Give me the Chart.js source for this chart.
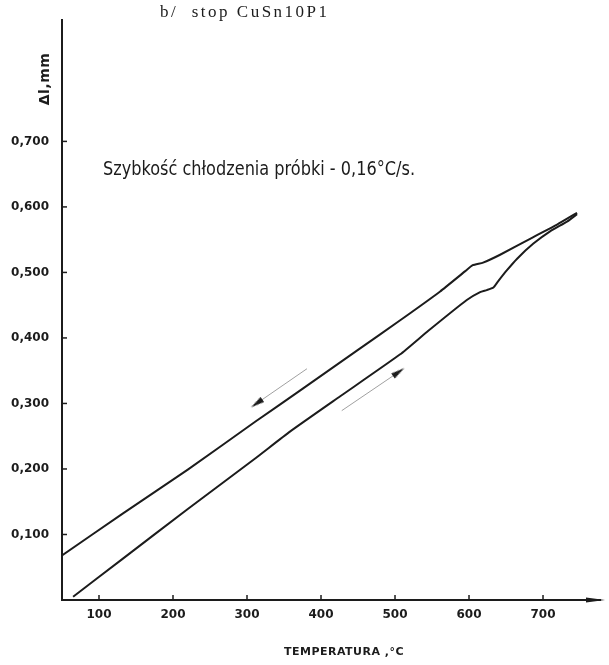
<!DOCTYPE html>
<html>
<head>
<meta charset="utf-8">
<script src="https://cdn.jsdelivr.net/npm/chart.js@4.4.1/dist/chart.umd.min.js"></script>
<style>
  html, body { margin: 0; padding: 0; background: #fff; }
  #wrap { width: 609px; height: 665px; position: relative; }
</style>
</head>
<body>
<div id="wrap"><canvas id="chart" width="609" height="665"></canvas></div>
<script>
// cooling curve (upper), temperature in C and elongation in mm
var coolT = [50, 131, 220, 311, 372, 449, 507, 561, 595, 605, 619, 642, 687, 719, 746];
var coolDL = [0.068, 0.131, 0.199, 0.272, 0.320, 0.381, 0.427, 0.471, 0.502, 0.511, 0.515, 0.527, 0.554, 0.573, 0.591];

// heating curve (lower)
var heatT = [65, 131, 220, 311, 358, 426, 507, 545, 597, 615, 624, 633, 639, 651, 665, 687, 710, 733, 746];
var heatDL = [0.005, 0.062, 0.139, 0.216, 0.257, 0.311, 0.375, 0.411, 0.458, 0.470, 0.473, 0.477, 0.486, 0.503, 0.521, 0.544, 0.563, 0.578, 0.589];

// direction arrows drawn beside the curves (tail, head)
var coolArrowT = [381, 313];
var coolArrowDL = [0.353, 0.300];
var heatArrowT = [428, 505];
var heatArrowDL = [0.289, 0.348];

var xTicks = [100, 200, 300, 400, 500, 600, 700];
var yTicks = [0.1, 0.2, 0.3, 0.4, 0.5, 0.6, 0.7];

var titleText = 'b/  stop CuSn10P1';
var noteText = 'Szybkość chłodzenia próbki - 0,16°C/s.';
var xTitle = 'TEMPERATURA ,°C';
var yTitle = 'Δl,mm';

function toPoints(xs, ys) {
  return xs.map(function (x, i) { return { x: x, y: ys[i] }; });
}

var ink = '#1c1c1c';

// long thin arrow head, pointing up before rotation
function arrowHead() {
  var c = document.createElement('canvas');
  c.width = 6; c.height = 14;
  var g = c.getContext('2d');
  g.fillStyle = ink;
  g.beginPath();
  g.moveTo(3, 0); g.lineTo(6, 14); g.lineTo(0, 14);
  g.closePath(); g.fill();
  return c;
}
var head = arrowHead();

var extras = {
  id: 'extras',
  afterDraw: function (chart) {
    var ctx = chart.ctx, xs = chart.scales.x, ys = chart.scales.y;
    var area = chart.chartArea;
    ctx.save();
    ctx.strokeStyle = ink;
    ctx.fillStyle = ink;
    ctx.lineWidth = 1.5;
    // small tick marks inside the axes
    yTicks.forEach(function (v) {
      var py = ys.getPixelForValue(v);
      ctx.beginPath(); ctx.moveTo(area.left, py); ctx.lineTo(area.left + 5, py); ctx.stroke();
    });
    xTicks.forEach(function (v) {
      var px = xs.getPixelForValue(v);
      ctx.beginPath(); ctx.moveTo(px, area.bottom); ctx.lineTo(px, area.bottom - 5); ctx.stroke();
    });
    // arrow head at end of x axis
    ctx.beginPath();
    ctx.moveTo(area.right + 5, area.bottom);
    ctx.lineTo(area.right - 14, area.bottom - 2.5);
    ctx.lineTo(area.right - 14, area.bottom + 2.5);
    ctx.closePath(); ctx.fill();

    // texts
    ctx.textBaseline = 'middle';
    ctx.textAlign = 'left';
    ctx.font = '17px "Liberation Serif"';
    ctx.letterSpacing = '2.5px';
    ctx.fillText(titleText, 160, 13);

    ctx.letterSpacing = '0px';
    ctx.font = '19px "DejaVu Sans Condensed", "DejaVu Sans"';
    var w = ctx.measureText(noteText).width;
    ctx.save();
    ctx.translate(103, 170);
    ctx.scale(312 / w, 1);
    ctx.fillText(noteText, 0, 0);
    ctx.restore();

    ctx.font = 'bold 11px "DejaVu Sans"';
    ctx.letterSpacing = '0.5px';
    ctx.textAlign = 'center';
    ctx.fillText(xTitle, 344, 652);

    ctx.save();
    ctx.translate(45, 79);
    ctx.rotate(-Math.PI / 2);
    ctx.font = 'bold 14px "DejaVu Sans"';
    ctx.letterSpacing = '0.5px';
    ctx.fillText(yTitle, 0, 0);
    ctx.restore();
    ctx.restore();
  }
};

new Chart(document.getElementById('chart'), {
  type: 'scatter',
  data: {
    datasets: [
      {
        label: 'chłodzenie',
        data: toPoints(coolT, coolDL),
        showLine: true,
        borderColor: ink,
        borderWidth: 2,
        pointRadius: 0,
        tension: 0.15
      },
      {
        label: 'nagrzewanie',
        data: toPoints(heatT, heatDL),
        showLine: true,
        borderColor: ink,
        borderWidth: 2,
        pointRadius: 0,
        tension: 0.15
      },
      {
        label: 'arrow1',
        data: toPoints(coolArrowT, coolArrowDL),
        showLine: true,
        borderColor: '#a0a0a0',
        borderWidth: 1,
        pointRadius: [0, 7],
        pointStyle: head,
        rotation: 235
      },
      {
        label: 'arrow2',
        data: toPoints(heatArrowT, heatArrowDL),
        showLine: true,
        borderColor: '#a0a0a0',
        borderWidth: 1,
        pointRadius: [0, 7],
        pointStyle: head,
        rotation: 55
      }
    ]
  },
  options: {
    responsive: false,
    animation: false,
    layout: { padding: { top: 4, right: 9, left: 0, bottom: 0 } },
    plugins: { legend: { display: false }, tooltip: { enabled: false } },
    scales: {
      x: {
        type: 'linear',
        min: 50,
        max: 777,
        grid: { display: false, drawTicks: false },
        border: { color: ink, width: 2 },
        afterBuildTicks: function (scale) {
          scale.ticks = xTicks.map(function (v) { return { value: v }; });
        },
        afterFit: function (scale) { scale.height = 65; },
        ticks: {
          padding: 8,
          color: ink,
          font: { family: 'DejaVu Sans', size: 12, weight: 'bold' },
          maxRotation: 0
        }
      },
      y: {
        type: 'linear',
        min: 0,
        max: 0.885,
        grid: { display: false, drawTicks: false },
        border: { color: ink, width: 2 },
        afterBuildTicks: function (scale) {
          scale.ticks = yTicks.map(function (v) { return { value: v }; });
        },
        afterFit: function (scale) { scale.width = 62; },
        ticks: {
          padding: 13,
          color: ink,
          font: { family: 'DejaVu Sans', size: 12, weight: 'bold' },
          callback: function (v) { return v.toFixed(3).replace('.', ','); }
        }
      }
    }
  },
  plugins: [extras]
});
</script>
</body>
</html>
